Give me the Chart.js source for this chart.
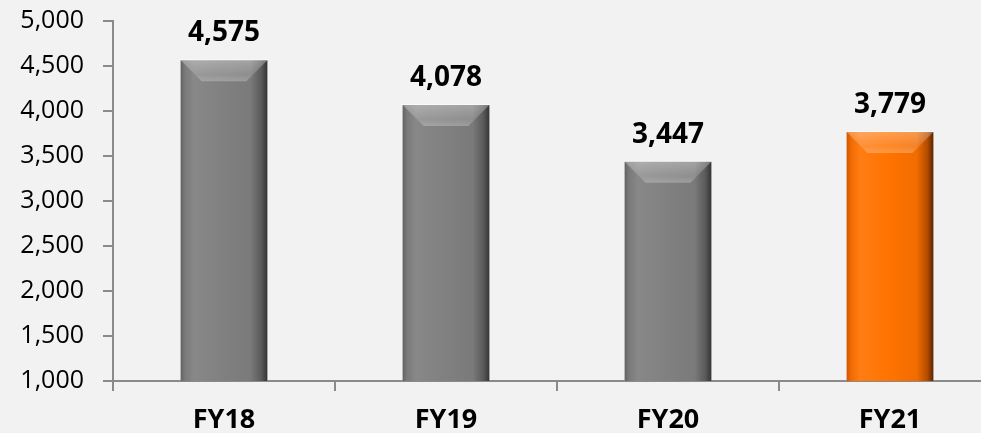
<!DOCTYPE html>
<html>
<head>
<meta charset="utf-8">
<script src="https://cdn.jsdelivr.net/npm/chart.js@4"></script>
<style>
  html, body { margin: 0; padding: 0; background: #f2f2f2; overflow: hidden; }
  #wrap { width: 1003px; height: 433px; position: relative; }
</style>
</head>
<body>
<div id="wrap"><canvas id="chart"></canvas></div>
<script>
const years = ['FY18', 'FY19', 'FY20', 'FY21'];
const revenue = [4575, 4078, 3447, 3779];
const barKinds = ['gray', 'gray', 'gray', 'orange'];
const yTicks = [1000, 1500, 2000, 2500, 3000, 3500, 4000, 4500, 5000];

const FONT = '"Open Sans", "Liberation Sans", sans-serif';
const AXIS_COLOR = '#8a8a8a';
const BAR_FRACTION = 0.4;

const SHADES = {
  gray: ['#5c5c5c', '#7a7a7a', '#888888', '#808080', '#7a7a7a', '#5a5a5a', '#2e2e2e'],
  orange: ['#c45200', '#f06a00', '#ff7d14', '#ff7300', '#f26c00', '#b44c00', '#4a1e00']
};
const STOPS = [0, 0.06, 0.16, 0.5, 0.8, 0.92, 1];

function barFill(context) {
  const chart = context.chart;
  const xs = chart.scales.x;
  if (!chart.chartArea || !xs) return SHADES[barKinds[context.dataIndex]][3];
  const center = xs.getPixelForValue(context.dataIndex);
  const w = xs.width / years.length * BAR_FRACTION;
  const g = chart.ctx.createLinearGradient(center - w / 2, 0, center + w / 2, 0);
  const shades = SHADES[barKinds[context.dataIndex]];
  STOPS.forEach((s, i) => g.addColorStop(s, shades[i]));
  return g;
}

// Bevel at top and bottom of each bar
const bevelPlugin = {
  id: 'bevel',
  afterDatasetsDraw(chart) {
    const ctx = chart.ctx;
    chart.getDatasetMeta(0).data.forEach(bar => {
      const p = bar.getProps(['x', 'y', 'base', 'width'], true);
      const l = p.x - p.width / 2, r = p.x + p.width / 2;
      const t = p.y, b = p.base;
      const d = Math.min(22, (b - t) / 2);
      ctx.save();
      // top
      let g = ctx.createLinearGradient(0, t, 0, t + d);
      g.addColorStop(0, 'rgba(255,255,255,0.32)');
      g.addColorStop(0.7, 'rgba(255,255,255,0.15)');
      g.addColorStop(1, 'rgba(255,255,255,0.26)');
      ctx.fillStyle = g;
      ctx.beginPath();
      ctx.moveTo(l, t); ctx.lineTo(r, t); ctx.lineTo(r - d, t + d); ctx.lineTo(l + d, t + d);
      ctx.closePath(); ctx.fill();
      // bottom
      g = ctx.createLinearGradient(0, b - d, 0, b);
      g.addColorStop(0, 'rgba(0,0,0,0.08)');
      g.addColorStop(1, 'rgba(0,0,0,0.25)');
      ctx.fillStyle = g;
      ctx.beginPath();
      ctx.moveTo(l, b); ctx.lineTo(r, b); ctx.lineTo(r - d, b - d); ctx.lineTo(l + d, b - d);
      ctx.closePath(); ctx.fill();
      ctx.restore();
    });
  }
};

// Value labels above the bars
const valueLabels = {
  id: 'valueLabels',
  afterDatasetsDraw(chart) {
    const ctx = chart.ctx;
    ctx.save();
    ctx.font = 'bold 28px ' + FONT;
    ctx.fillStyle = '#000';
    ctx.textAlign = 'center';
    ctx.textBaseline = 'middle';
    chart.getDatasetMeta(0).data.forEach((bar, i) => {
      ctx.fillText(revenue[i].toLocaleString('en-US'), bar.x, bar.y - 26);
    });
    ctx.restore();
  }
};

new Chart(document.getElementById('chart'), {
  type: 'bar',
  data: {
    labels: years,
    datasets: [{
      data: revenue,
      backgroundColor: barFill,
      borderColor: 'rgba(255,255,255,0.35)',
      borderWidth: 1,
      barPercentage: 0.8,
      categoryPercentage: BAR_FRACTION / 0.8
    }]
  },
  options: {
    responsive: true,
    maintainAspectRatio: false,
    animation: false,
    layout: { padding: { top: 21, right: 2, left: 0, bottom: 0 } },
    plugins: { legend: { display: false }, tooltip: { enabled: false } },
    scales: {
      x: {
        grid: { display: true, drawOnChartArea: false, offset: true, color: AXIS_COLOR, lineWidth: 2, tickLength: 10 },
        border: { color: AXIS_COLOR, width: 2 },
        ticks: { color: '#000', font: { family: FONT, size: 27, weight: 'bold' }, padding: 13 },
        afterFit(scale) { scale.height = 52; scale.paddingLeft = 0; scale.paddingRight = 0; }
      },
      y: {
        min: 1000,
        max: 5000,
        afterBuildTicks(scale) { scale.ticks = yTicks.map(v => ({ value: v })); },
        grid: { display: true, drawOnChartArea: false, color: AXIS_COLOR, lineWidth: 2, tickLength: 10 },
        border: { color: AXIS_COLOR, width: 2 },
        ticks: {
          color: '#000',
          font: { family: FONT, size: 25 },
          padding: 19,
          callback: v => v.toLocaleString('en-US')
        },
        afterFit(scale) { scale.width = 113; scale.paddingTop = 0; scale.paddingBottom = 0; }
      }
    }
  },
  plugins: [bevelPlugin, valueLabels]
});
</script>
</body>
</html>
